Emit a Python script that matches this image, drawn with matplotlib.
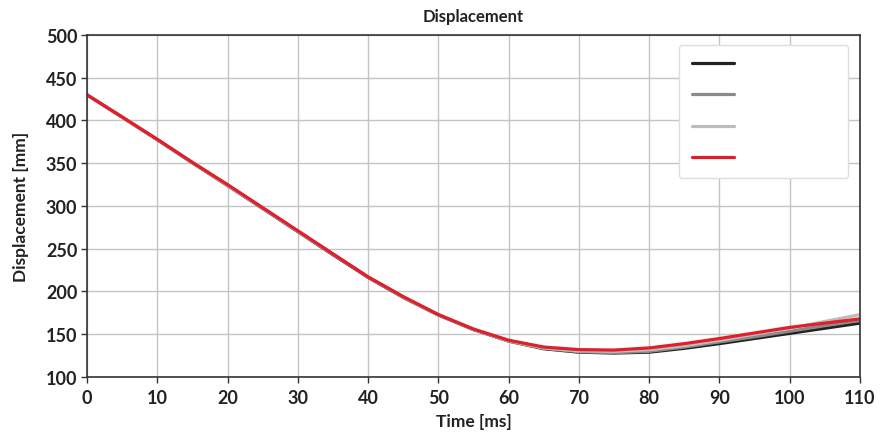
import matplotlib
matplotlib.use("Agg")
import matplotlib.pyplot as plt

plt.rcParams['font.family'] = ['Lato', 'DejaVu Sans']

# Time axis [ms]
time_ms = [0, 5, 10, 15, 20, 25, 30, 35, 40, 45, 50, 55,
           60, 65, 70, 75, 80, 85, 90, 95, 100, 105, 110]

# Displacement traces [mm]
disp_a = [430, 404, 377.5, 350.5, 324, 297, 270, 243, 216.5, 193, 172.5, 155.5,
          142, 133, 129, 128, 129, 133.5, 139, 145, 151, 157, 163]
disp_b = [430, 404, 377.5, 350.5, 324, 297.5, 270.5, 243.5, 217, 193.5, 172.5, 155.5,
          142, 133.5, 129.5, 128.5, 130, 135, 141, 147, 153.5, 160, 166]
disp_c = [430, 404, 378, 351, 324.5, 297.5, 270.5, 244, 217, 193.5, 173, 156,
          142.5, 134, 130.5, 130, 132, 136.5, 143, 150, 157, 165, 173]
disp_d = [430, 404, 378, 351, 325, 298, 271, 244, 217, 194, 173, 156,
          143, 135, 132, 131.5, 134, 139, 145, 151.5, 158, 163, 168]

series = [disp_a, disp_b, disp_c, disp_d]
colors = ['#222222', '#8a8a8a', '#bdbdbd', '#e31e2b']

fig = plt.figure(figsize=(8.8, 4.39), dpi=100)
ax = fig.add_axes([0.0989, 0.139, 0.8784, 0.779])

handles = []
for ys, c in zip(series, colors):
    h, = ax.plot(time_ms, ys, color=c, lw=2.3, solid_capstyle='round')
    handles.append(h)

ax.set_xlim(0, 110)
ax.set_ylim(100, 500)
ax.set_xticks(range(0, 111, 10))
ax.set_yticks(range(100, 501, 50))
ax.grid(True, color='#c4c4c4', lw=1.0)
ax.set_axisbelow(True)

for s in ax.spines.values():
    s.set_color('#333333')
    s.set_linewidth(1.2)
ax.tick_params(direction='out', length=4, width=1, colors='#333333',
               labelsize=13, pad=3)
ax.tick_params(axis='x', pad=5)
for lab in ax.get_xticklabels() + ax.get_yticklabels():
    lab.set_fontweight('bold')
    lab.set_color('#222222')

ax.set_title('Displacement', fontsize=12, fontweight='bold', pad=10, color='#222222')
ax.set_xlabel('Time [ms]', fontsize=12.5, fontweight='bold', labelpad=5, color='#222222')
ax.set_ylabel('Displacement [mm]', fontsize=12.5, fontweight='bold', labelpad=12, color='#222222')

blank = '\u2003' * 8
leg = ax.legend(handles, [blank] * 4, loc='upper right',
                bbox_to_anchor=(0.99, 0.985), fontsize=11,
                handlelength=2.8, labelspacing=1.15, borderpad=0.8,
                handletextpad=0.6, borderaxespad=0.3,
                frameon=True, fancybox=True, framealpha=1.0)
leg.get_frame().set_edgecolor('#dddddd')
leg.get_frame().set_linewidth(1.0)

fig.savefig('out.png', dpi=100, facecolor='white')
